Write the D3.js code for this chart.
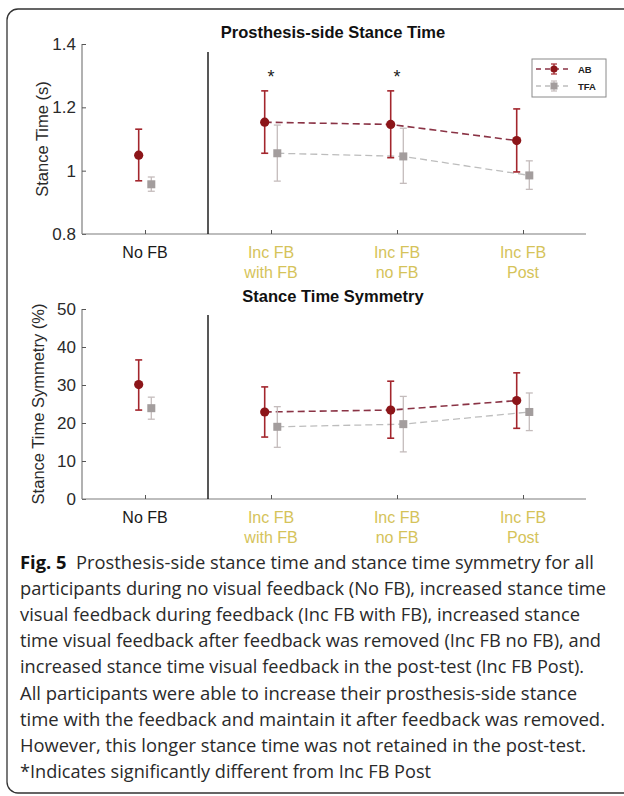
<!DOCTYPE html>
<html>
<head>
	<title> stance time figure </title>
	<script src="https://d3js.org/d3.v7.min.js"></script>
	<style>
		body { margin: 0; background: white; }
	</style>
</head>
<body>
	<svg id="fig"></svg>
	<script type="text/javascript">

		// values
		const categories = ["No FB", "Inc FB|with FB", "Inc FB|no FB", "Inc FB|Post"];
		const series = ["AB", "TFA"];

		const stanceAB     = [1.049, 1.153, 1.146, 1.095];
		const stanceABLow  = [0.968, 1.055, 1.041, 0.996];
		const stanceABHigh = [1.131, 1.252, 1.252, 1.195];
		const stanceTFA     = [0.957, 1.055, 1.045, 0.985];
		const stanceTFALow  = [0.935, 0.967, 0.960, 0.941];
		const stanceTFAHigh = [0.980, 1.144, 1.134, 1.031];

		const symAB     = [30.1, 22.9, 23.4, 25.9];
		const symABLow  = [23.4, 16.3, 16.0, 18.6];
		const symABHigh = [36.6, 29.5, 31.0, 33.2];
		const symTFA     = [23.9, 19.0, 19.7, 22.9];
		const symTFALow  = [21.0, 13.6, 12.4, 18.0];
		const symTFAHigh = [26.8, 24.3, 27.0, 27.9];

		const stanceTicks = [0.8, 1, 1.2, 1.4];
		const symTicks = [0, 10, 20, 30, 40, 50];
		const sigCategories = [1, 2]; // marked with *

		const caption = [
			["Fig. 5", "  Prosthesis-side stance time and stance time symmetry for all"],
			["", "participants during no visual feedback (No FB), increased stance time"],
			["", "visual feedback during feedback (Inc FB with FB), increased stance"],
			["", "time visual feedback after feedback was removed (Inc FB no FB), and"],
			["", "increased stance time visual feedback in the post-test (Inc FB Post)."],
			["", "All participants were able to increase their prosthesis-side stance"],
			["", "time with the feedback and maintain it after feedback was removed."],
			["", "However, this longer stance time was not retained in the post-test."],
			["", "*Indicates significantly different from Inc FB Post"]
		];
		const captionEnds = [594, 606, 580, 601, 584, 577, 605, 586, 431];

		const w = 624;
		const h = 796;
		const svg = d3.select("#fig").attr("width", w).attr("height", h);

		const abColor = "#8c1519";
		const abBar = "#a3262d";
		const abLine = "#8a3345";
		const tfaColor = "#a39d9d";
		const tfaBar = "#c4bcbc";
		const tfaLine = "#bdbdbd";
		const labelYellow = "#d5c35a";
		const axisFont = "Liberation Sans, Arimo, Helvetica, Arial, sans-serif";

		// rounded frame, runs off the right edge like the original
		svg.append("rect").attr("x", 7).attr("y", 9).attr("width", 660).attr("height", 784)
			.attr("rx", 11).style("fill", "none").style("stroke", "#333").style("stroke-width", 1.3);

		const x = d3.scaleLinear().domain([0.5, 4.5]).range([82, 586]);
		const offset = 0.05;

		function panel(opts) {
			const y = d3.scaleLinear().domain(opts.domain).range([opts.bottom, opts.top]);
			const g = svg.append("g");

			// title
			g.append("text").attr("x", 333).attr("y", opts.titleY).attr("text-anchor", "middle")
				.attr("font-family", axisFont).attr("font-weight", "bold").attr("font-size", 16.5)
				.style("fill", "#111").text(opts.title);

			// axes
			const yaxis = d3.axisLeft(y).tickValues(opts.ticks).tickSize(-4).tickPadding(6)
				.tickFormat(d => String(d));
			const ya = g.append("g").attr("transform", "translate(" + x.range()[0] + ",0)").call(yaxis)
				.attr("font-family", axisFont).attr("font-size", 17);
			const xaxis = d3.axisBottom(x).tickValues([1, 2, 3, 4]).tickSize(-4).tickFormat("");
			const xa = g.append("g").attr("transform", "translate(0," + opts.bottom + ")").call(xaxis);
			[ya, xa].forEach(a => {
				a.select(".domain").style("stroke", "#7d7d7d").style("stroke-width", 1.2)
					.attr("d", a === ya ? "M0," + opts.top + "V" + opts.bottom : "M" + x.range()[0] + ",0H" + x.range()[1]);
				a.selectAll(".tick line").style("stroke", "#555");
			});
			ya.selectAll(".tick text").style("fill", "#2a2a2a");

			// category labels
			categories.forEach(function(c, i) {
				const parts = c.split("|");
				const t = g.append("text").attr("x", x(i + 1)).attr("text-anchor", "middle")
					.attr("font-family", axisFont).attr("font-size", 16)
					.style("fill", i == 0 ? "#1a1a1a" : labelYellow);
				parts.forEach(function(p, j) {
					t.append("tspan").attr("x", x(i + 1)).attr("y", opts.bottom + 24 + j * 19.5).text(p);
				});
			});

			// y label
			g.append("text").attr("transform", "translate(" + opts.labelX + "," + ((opts.top + opts.bottom) / 2) + ") rotate(-90)")
				.attr("text-anchor", "middle").attr("font-family", axisFont).attr("font-size", 16.5)
				.style("fill", "#2a2a2a").text(opts.ylabel);

			// separator after No FB
			g.append("line").attr("x1", x(1.5)).attr("x2", x(1.5)).attr("y1", opts.sepTop).attr("y2", opts.bottom)
				.style("stroke", "#111").style("stroke-width", 1.4);

			const sets = [
				{ m: opts.ab, lo: opts.abLo, hi: opts.abHi, dx: -offset, col: abColor, bar: abBar, line: abLine, shape: "circle" },
				{ m: opts.tfa, lo: opts.tfaLo, hi: opts.tfaHi, dx: offset, col: tfaColor, bar: tfaBar, line: tfaLine, shape: "square" }
			];

			// dashed connecting lines (feedback conditions only), TFA drawn first
			sets.slice().reverse().forEach(function(s) {
				const pts = s.m.map((v, i) => [x(i + 1 + s.dx), y(v)]).slice(1);
				g.append("path").attr("d", d3.line()(pts)).style("fill", "none")
					.style("stroke", s.line).style("stroke-width", s.shape == "circle" ? 1.6 : 1.3)
					.style("stroke-dasharray", "7,4");
			});

			sets.slice().reverse().forEach(function(s) {
				const eb = g.append("g").selectAll("g").data(s.m).join("g");
				eb.append("line").attr("x1", (d, i) => x(i + 1 + s.dx)).attr("x2", (d, i) => x(i + 1 + s.dx))
					.attr("y1", (d, i) => y(s.lo[i])).attr("y2", (d, i) => y(s.hi[i]))
					.style("stroke", s.bar).style("stroke-width", s.shape == "circle" ? 1.6 : 1.3);
				["lo", "hi"].forEach(function(k) {
					eb.append("line").attr("x1", (d, i) => x(i + 1 + s.dx) - 3.5).attr("x2", (d, i) => x(i + 1 + s.dx) + 3.5)
						.attr("y1", (d, i) => y(s[k][i])).attr("y2", (d, i) => y(s[k][i]))
						.style("stroke", s.bar).style("stroke-width", s.shape == "circle" ? 1.6 : 1.3);
				});
				if (s.shape == "circle") {
					eb.append("circle").attr("cx", (d, i) => x(i + 1 + s.dx)).attr("cy", d => y(d)).attr("r", 4.6)
						.style("fill", s.col);
				} else {
					eb.append("rect").attr("x", (d, i) => x(i + 1 + s.dx) - 4).attr("y", d => y(d) - 4)
						.attr("width", 8).attr("height", 8).style("fill", s.col);
				}
			});

			return y;
		}

		const yTop = panel({
			domain: [0.8, 1.4], top: 44, bottom: 234, sepTop: 52, ticks: stanceTicks,
			title: "Prosthesis-side Stance Time", titleY: 38, ylabel: "Stance Time (s)", labelX: 48,
			ab: stanceAB, abLo: stanceABLow, abHi: stanceABHigh,
			tfa: stanceTFA, tfaLo: stanceTFALow, tfaHi: stanceTFAHigh
		});

		panel({
			domain: [0, 50], top: 309, bottom: 499, sepTop: 315, ticks: symTicks,
			title: "Stance Time Symmetry", titleY: 302, ylabel: "Stance Time Symmetry (%)", labelX: 44,
			ab: symAB, abLo: symABLow, abHi: symABHigh,
			tfa: symTFA, tfaLo: symTFALow, tfaHi: symTFAHigh
		});

		// significance stars
		svg.selectAll("text.star").data(sigCategories).join("text").attr("class", "star")
			.attr("x", d => x(d + 1)).attr("y", yTop(1.305) + 9).attr("text-anchor", "middle")
			.attr("font-family", axisFont).attr("font-size", 18).style("fill", "#222").text("*");

		// legend
		const lg = svg.append("g").attr("transform", "translate(532,59)");
		lg.append("rect").attr("width", 74).attr("height", 38).style("fill", "white")
			.style("stroke", "#8a8a8a").style("stroke-width", 1);
		const legendRows = [
			{ name: series[0], col: abColor, bar: abBar, line: abLine, shape: "circle", y: 10 },
			{ name: series[1], col: tfaColor, bar: tfaBar, line: tfaLine, shape: "square", y: 27 }
		];
		legendRows.forEach(function(r) {
			lg.append("line").attr("x1", 4).attr("x2", 37).attr("y1", r.y).attr("y2", r.y)
				.style("stroke", r.line).style("stroke-width", 1.4).style("stroke-dasharray", "5,4");
			lg.append("line").attr("x1", 22).attr("x2", 22).attr("y1", r.y - 5).attr("y2", r.y + 5)
				.style("stroke", r.bar).style("stroke-width", 1.3);
			[-5, 5].forEach(function(o) {
				lg.append("line").attr("x1", 19).attr("x2", 25).attr("y1", r.y + o).attr("y2", r.y + o)
					.style("stroke", r.bar).style("stroke-width", 1.2);
			});
			if (r.shape == "circle") {
				lg.append("circle").attr("cx", 22).attr("cy", r.y).attr("r", 3.6).style("fill", r.col);
			} else {
				lg.append("rect").attr("x", 18.5).attr("y", r.y - 3.5).attr("width", 7).attr("height", 7).style("fill", r.col);
			}
			lg.append("text").attr("x", 46).attr("y", r.y + 3.5).attr("font-family", axisFont)
				.attr("font-weight", "bold").attr("font-size", 9.5).style("fill", "#222").text(r.name);
		});

		// caption
		const cap = svg.append("g");
		caption.forEach(function(line, i) {
			const t = cap.append("text").attr("x", 20).attr("y", 569 + i * 26.1)
				.attr("textLength", captionEnds[i] - 20).attr("lengthAdjust", "spacingAndGlyphs")
				.attr("font-family", "Open Sans, Noto Sans, sans-serif").attr("font-size", 18)
				.style("fill", "#2a2a2a").attr("xml:space", "preserve");
			if (line[0]) {
				t.append("tspan").attr("font-weight", "bold").style("fill", "#111").text(line[0]);
			}
			t.append("tspan").text(line[1]);
		});

	</script>
</body>
</html>
